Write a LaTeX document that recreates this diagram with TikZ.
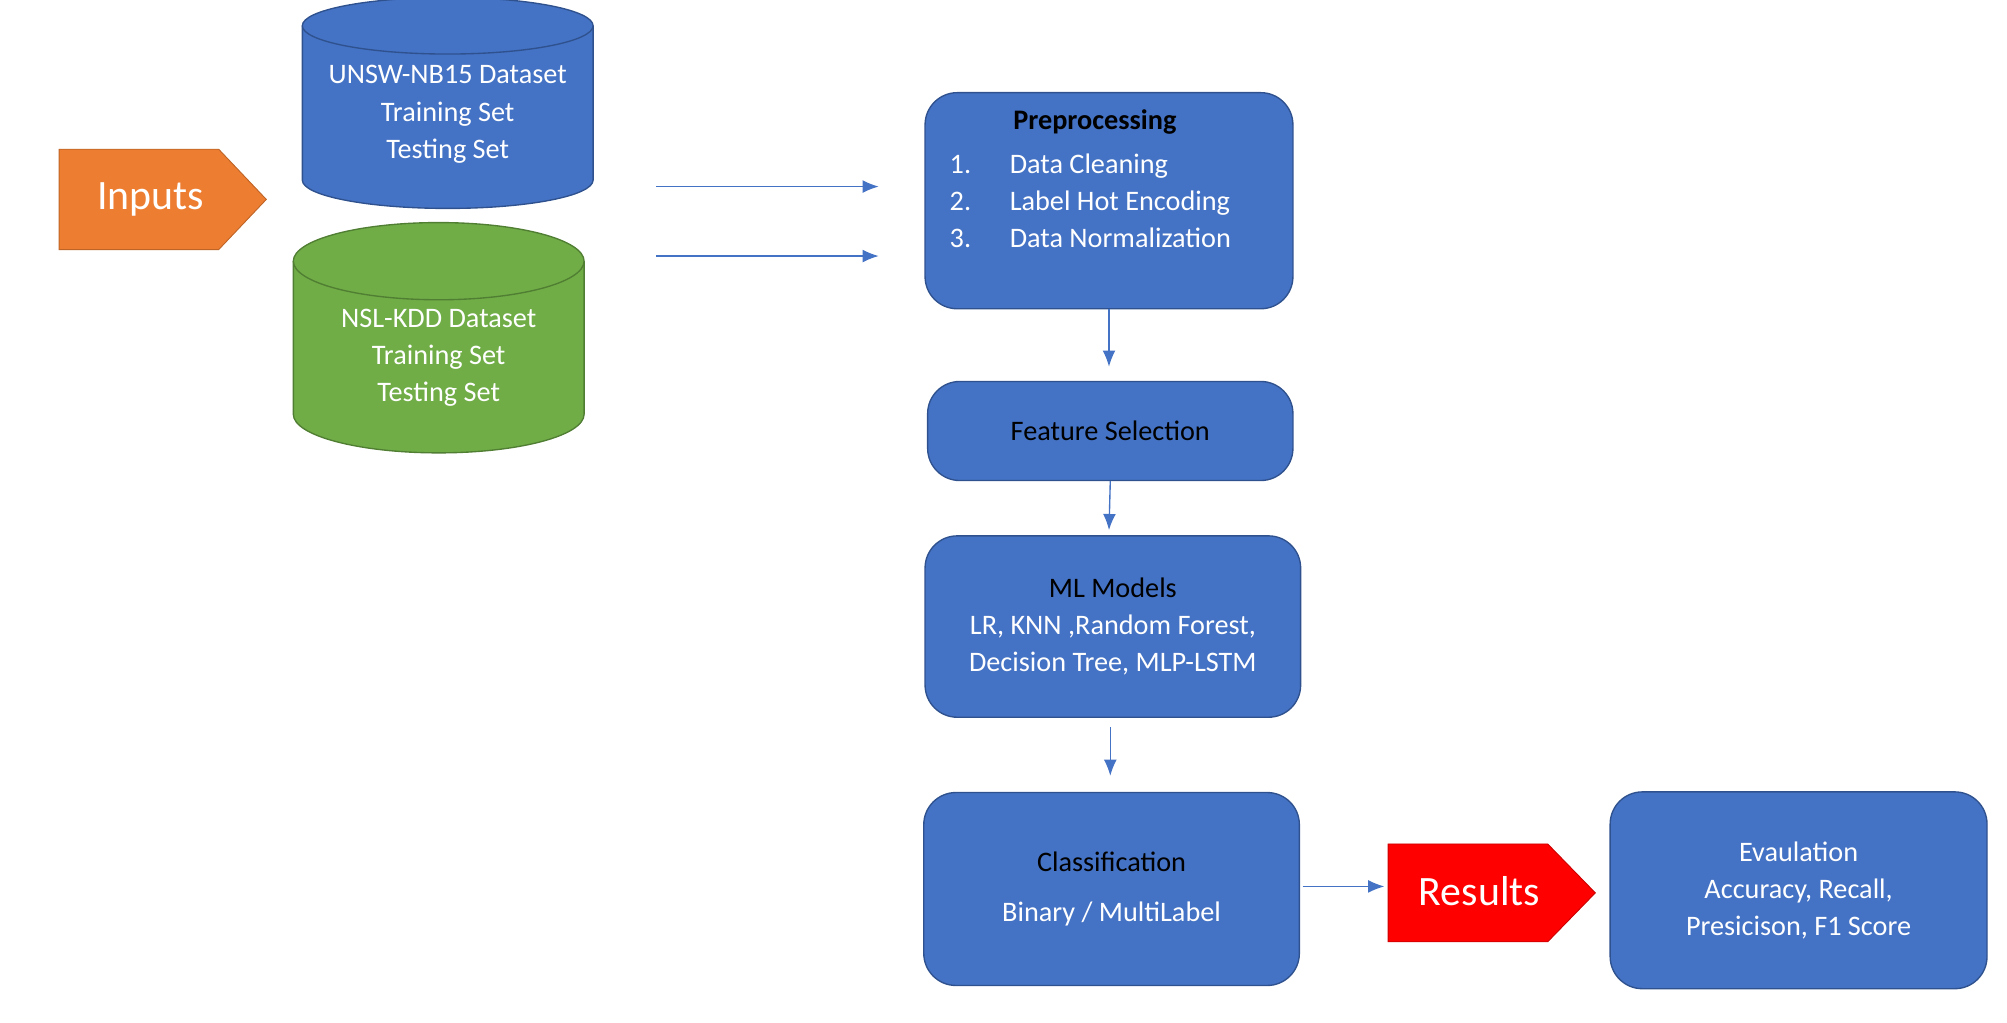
\documentclass[tikz,border=0pt]{standalone}
\usepackage{fontspec}
\setmainfont{Carlito}
\usetikzlibrary{shapes.geometric,shapes.symbols,arrows.meta}
\definecolor{boxblue}{HTML}{4472C4}
\definecolor{rimblue}{HTML}{2F528F}
\definecolor{dbgreen}{HTML}{70AD47}
\definecolor{rimgreen}{HTML}{507E32}
\definecolor{inorange}{HTML}{ED7D31}
\tikzset{
	stagebox/.style={draw=rimblue, fill=boxblue, rounded corners=0.5cm, line width=0.6pt, font=\fontsize{12.5}{16.5}\selectfont},
	flow/.style={draw=boxblue, line width=0.6pt, -{Latex[length=2.5mm,width=2mm]}},
	tag/.style={text=white, font=\fontsize{18.5}{22}\selectfont}
}
\begin{document}
\begin{tikzpicture}[x=0.02cm, y=-0.02cm]
	
	\useasboundingbox (0,0) rectangle (1560,795);
	
	% datasets
	\def\cylA{235}; \def\cylB{461};
	\fill[boxblue] (\cylA,20) -- (\cylA,140) arc (180:0:113 and 22) -- (\cylB,20) -- cycle;
	\draw[rimblue, line width=0.6pt] (\cylA,20) -- (\cylA,140) arc (180:0:113 and 22) -- (\cylB,20);
	\draw[rimblue, fill=boxblue, line width=0.6pt] (348,20) ellipse (113 and 22);
	\node[text=white, align=center, font=\fontsize{12.5}{16.5}\selectfont] (unsw) at (348,89) {UNSW-NB15 Dataset\\Training Set\\Testing Set};

	\fill[dbgreen] (228,203) -- (228,322) arc (180:0:113 and 30) -- (454,203) -- cycle;
	\draw[rimgreen, line width=0.6pt] (228,203) -- (228,322) arc (180:0:113 and 30) -- (454,203);
	\draw[rimgreen, fill=dbgreen, line width=0.6pt] (341,203) ellipse (113 and 30);
	\node[text=white, align=center, font=\fontsize{12.5}{16.5}\selectfont] (nsl) at (341,278) {NSL-KDD Dataset\\Training Set\\Testing Set};

	% tags
	\fill[inorange, draw=inorange!80!black] (46,116) -- (170,116) -- (207,155) -- (170,194) -- (46,194) -- cycle;
	\node[tag] (inputs) at (117,155) {Inputs};
	\fill[red, draw=red!80!black] (1079,656) -- (1203,656) -- (1240,694) -- (1203,732) -- (1079,732) -- cycle;
	\node[tag] (results) at (1150,693) {Results};

	% stages
	\node[stagebox, minimum width=5.72cm, minimum height=3.36cm] (prep) at (862,156) {};
	\node[font=\fontsize{12.5}{16.5}\selectfont\bfseries] (preptitle) at (851,95) {Preprocessing};
	\node[text=white, anchor=west, font=\fontsize{12.5}{16.5}\selectfont, align=left] (steps) at (732,156)
		{1.\hspace{0.6cm}Data Cleaning\\2.\hspace{0.6cm}Label Hot Encoding\\3.\hspace{0.6cm}Data Normalization};
	\node[stagebox, minimum width=5.68cm, minimum height=1.54cm, text=black] (feat) at (863,335) {Feature Selection};
	\node[stagebox, minimum width=5.84cm, minimum height=2.82cm, align=center, text=white] (ml) at (865,487)
		{\textcolor{black}{ML Models}\\LR, KNN ,Random Forest,\\Decision Tree, MLP-LSTM};
	\node[stagebox, minimum width=5.84cm, minimum height=3.0cm, align=center, text=white] (cls) at (864,691)
		{\textcolor{black}{Classification}\\[0.2cm]Binary / MultiLabel};
	\node[stagebox, minimum width=5.86cm, minimum height=3.06cm, align=center, text=white] (eval) at (1398,692)
		{Evaulation\\Accuracy, Recall,\\Presicison, F1 Score};

	% connectors
	\coordinate (fromA) at (510,145); \coordinate (toA) at (683,145);
	\coordinate (fromB) at (510,199); \coordinate (toB) at (683,199);
	\draw[flow] (fromA) -- (toA);
	\draw[flow] (fromB) -- (toB);
	\draw[flow] (prep.south) -- (862,285);
	\draw[flow] (feat.south) -- (862,412);
	\coordinate (mlgap) at (863,565);
	\draw[flow] (mlgap) -- (863,603);
	\draw[flow] (cls.east) ++(2,-2) -- (1076,689);

\end{tikzpicture}
\end{document}
